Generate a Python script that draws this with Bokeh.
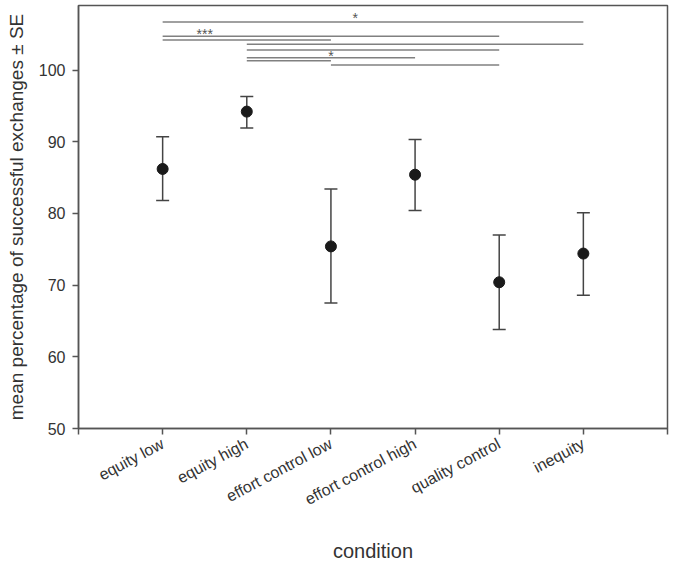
import math
from bokeh.plotting import figure
from bokeh.models import Range1d, FixedTicker, Whisker, ColumnDataSource, TeeHead
from bokeh.core.properties import value
from bokeh.embed import file_html
from bokeh.resources import INLINE

# ---- data ----
conditions = ["equity low", "equity high", "effort control low",
              "effort control high", "quality control", "inequity"]
means = [86.2, 94.2, 75.4, 85.4, 70.4, 74.4]
upper = [90.7, 96.3, 83.4, 90.3, 77.0, 80.1]
lower = [81.8, 91.9, 67.5, 80.4, 63.8, 68.6]

# significance brackets (start condition index, end condition index, height)
sig_start = [1, 1, 1, 2, 2, 2, 2, 3]
sig_end = [6, 5, 3, 6, 5, 4, 3, 5]
sig_level = [106.7, 104.7, 104.2, 103.6, 102.8, 101.7, 101.3, 100.7]
# star annotations (x position in condition units, height, text)
star_x = [3.29, 1.5, 3.0]
star_y = [107.3, 105.0, 101.9]
star_text = ["*", "***", "*"]

y_ticks = [50, 60, 70, 80, 90, 100]

FONT = "Liberation Sans"

xs = list(range(1, len(conditions) + 1))

p = figure(width=670, height=565, output_backend="svg", toolbar_location=None,
           x_range=Range1d(0, 7), y_range=Range1d(50, 109.0),
           min_border_left=78, min_border_right=3, min_border_top=5,
           min_border_bottom=137)
p.xgrid.visible = False
p.ygrid.visible = False
p.outline_line_color = "#555555"
p.outline_line_width = 1.5
p.background_fill_color = "white"
p.border_fill_color = "white"

# significance lines
p.segment(x0=sig_start, x1=sig_end, y0=sig_level, y1=sig_level,
          line_color="#808080", line_width=1.5)
p.text(x=star_x, y=star_y, text=star_text, text_font=value(FONT),
       text_font_size="14px", text_color="#555555", text_align="center",
       text_baseline="middle")

# error bars
src = ColumnDataSource(dict(x=xs, mean=means, upper=upper, lower=lower))
w = Whisker(source=src, base="x", upper="upper", lower="lower",
            line_color="#444444", line_width=1.5,
            upper_head=TeeHead(size=13, line_color="#444444", line_width=1.5),
            lower_head=TeeHead(size=13, line_color="#444444", line_width=1.5))
p.add_layout(w)
p.scatter(x="x", y="mean", source=src, size=11, fill_color="#1a1a1a",
          line_color="#1a1a1a")

# x axis
p.xaxis.ticker = FixedTicker(ticks=[0] + xs + [7])
overrides = {0: "", 7: ""}
for i, c in zip(xs, conditions):
    overrides[i] = c
p.xaxis.major_label_overrides = overrides
p.xaxis.major_label_orientation = math.radians(28)
p.xaxis.axis_label = "condition"
p.xaxis.minor_tick_line_color = None

# y axis
p.yaxis.ticker = FixedTicker(ticks=y_ticks)
p.yaxis.axis_label = "mean percentage of successful exchanges \u00b1 SE"
p.yaxis.minor_tick_line_color = None

for ax in (p.xaxis, p.yaxis):
    ax.axis_line_color = "#555555"
    ax.axis_line_width = 1.5
    ax.major_tick_line_color = "#555555"
    ax.major_tick_line_width = 1.5
    ax.major_tick_in = 0
    ax.major_tick_out = 6
    ax.major_label_text_font = FONT
    ax.major_label_text_color = "#333333"
    ax.axis_label_text_font = FONT
    ax.axis_label_text_font_style = "normal"
    ax.axis_label_text_color = "#333333"
    ax.axis_label_text_font_size = "19px"

p.xaxis.axis_label_text_font_size = "20px"
p.yaxis.major_label_text_font_size = "16px"
p.xaxis.major_label_text_font_size = "16px"
p.yaxis.major_label_standoff = 7
p.yaxis.axis_label_standoff = 9
p.xaxis.major_label_standoff = 8
p.xaxis.axis_label_standoff = 22

open("out.html", "w").write(file_html(p, INLINE))
